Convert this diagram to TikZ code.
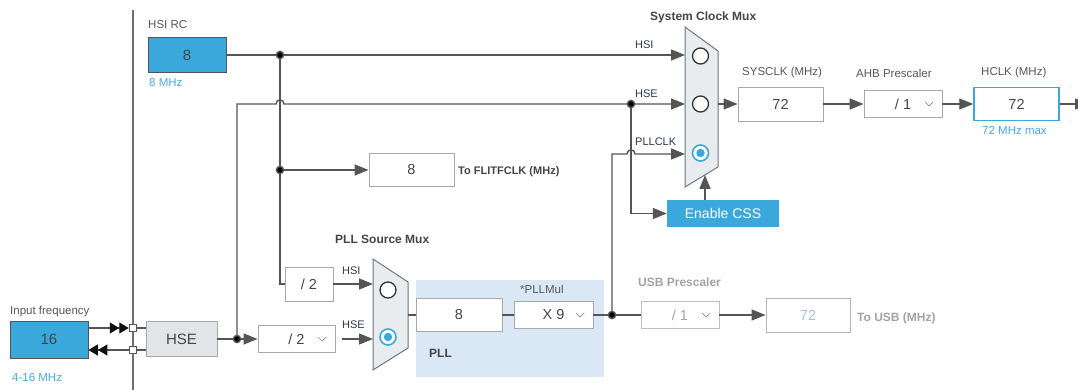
\documentclass[tikz,border=0pt]{standalone}
\usepackage{fontspec}
\setmainfont{Liberation Sans}
\usetikzlibrary{arrows.meta,calc}
\definecolor{wire}{HTML}{555555}
\definecolor{ink}{HTML}{454545}
\definecolor{labelink}{HTML}{575757}
\definecolor{muxink}{HTML}{2E3A4D}
\definecolor{cubeblue}{HTML}{3AA8DB}
\definecolor{hintc}{HTML}{4AA9E0}
\definecolor{pllbg}{HTML}{DAE8F5}
\definecolor{muxfill}{HTML}{E8ECEF}
\definecolor{muxedge}{HTML}{6F7780}
\definecolor{boxline}{HTML}{A8A8A8}
\definecolor{faded}{HTML}{A3A3A3}
\definecolor{fadednum}{HTML}{A8C2DC}
\definecolor{hsefill}{HTML}{E2E4E7}
\definecolor{chevron}{HTML}{8C8C8C}
\definecolor{pintip}{HTML}{111111}
\newcommand{\fsz}[1]{\fontsize{#1}{#1}\selectfont}
\begin{document}
\begin{tikzpicture}[x=1pt,y=-1pt,
  wire/.style={draw=wire,line width=1.4pt},
  arr/.style={wire,-{Triangle[length=14pt,width=11pt]}},
  dbl/.style={wire,-{Triangle[length=9.5pt,width=11pt,color=pintip]Triangle[length=9.5pt,width=11pt,color=pintip]}},
  valbox/.style={draw=boxline,fill=white,line width=0.9pt,inner sep=0,text=ink,font=\fsz{14.5}},
  drop/.style={valbox,path picture={\draw[chevron,line width=0.7pt]
      ([xshift=-17pt,yshift=2pt]path picture bounding box.east) -- ++(4,4) -- ++(4,-4);}},
  bluebox/.style={draw=wire,fill=cubeblue,line width=0.9pt,inner sep=0,text=ink,font=\fsz{15}},
  port/.style={draw=wire,fill=white,line width=1pt,inner sep=0,minimum size=7.5pt},
  lbl/.style={inner sep=0,anchor=west,text=labelink,font=\fsz{11.5}},
  blbl/.style={inner sep=0,anchor=west,text=ink,font=\bfseries\fsz{12}},
  hintlbl/.style={inner sep=0,anchor=west,text=hintc,font=\fsz{11.5}},
  inlbl/.style={inner sep=0,anchor=west,text=muxink,font=\fsz{11}},
  mux/.style={draw=muxedge,fill=muxfill,line width=1pt},
  radio/.style={circle,draw=black!80,fill=white,line width=1.3pt,minimum size=16pt,inner sep=0},
  radioon/.style={circle,draw=cubeblue,fill=white,line width=1.6pt,minimum size=16pt,inner sep=0,
      path picture={\fill[cubeblue] (path picture bounding box.center) circle[radius=4.2pt];}},
]
\useasboundingbox (0,0) rectangle (1078,390);
\fill[white] (0,0) rectangle (1078,390);

% PLL area
\fill[pllbg] (416,280) rectangle (604,377);

% boundary between external and internal clocks
\draw[wire!85,line width=1.2pt] (133,10) -- (133,390);

% ---- muxes ----
\draw[mux] (685,27) -- (718,51) -- (718,167) -- (685,187) -- cycle;
\coordinate (sm-hsi) at (685,55);
\coordinate (sm-hse) at (685,104);
\coordinate (sm-pll) at (685,154);
\coordinate (sm-out) at (718,104);
\coordinate (sm-css) at (705,175);
\node[radio] (sr1) at (700.5,56) {};
\node[radio] (sr2) at (700.5,104) {};
\node[radioon] (sr3) at (700.5,153) {};
\node[blbl] at (650,17) {System Clock Mux};

\draw[mux] (373,259) -- (408,282) -- (408,348) -- (373,370) -- cycle;
\coordinate (pm-hsi) at (373,284);
\coordinate (pm-hse) at (373,339);
\coordinate (pm-out) at (408,315);
\node[radio] (pr1) at (388,290) {};
\node[radioon] (pr2) at (388,337) {};
\node[blbl] at (335,239) {PLL Source Mux};

% ---- sources ----
\node[lbl] at (148,25) {HSI RC};
\node[bluebox,minimum width=78pt,minimum height=35pt] (hsirc) at (187,55) {8};
\node[hintlbl] at (149,83) {8 MHz};

\node[lbl] at (10,312) {Input frequency};
\node[bluebox,minimum width=78pt,minimum height=37pt] (infreq) at (49,339.5) {16};
\node[hintlbl] at (12,378) {4-16 MHz};
\node[port] (pin) at (133,328) {};
\node[port] (pout) at (133,350) {};
\node[draw=boxline,fill=hsefill,line width=0.9pt,inner sep=0,text=ink,font=\fsz{15},
      minimum width=71pt,minimum height=35pt] (hse) at (181.5,339) {HSE};

% ---- boxes ----
\node[valbox,minimum width=85pt,minimum height=33pt] (flit) at (411.5,170) {8};
\node[blbl,font=\bfseries\fsz{11}] at (458,172) {To FLITFCLK (MHz)};

\node[valbox,minimum width=48pt,minimum height=34pt] (div2a) at (309,284) {/ 2};
\node[drop,minimum width=77pt,minimum height=27pt] (div2b) at (296.5,339) {/ 2\hspace{26pt}};
\node[inlbl] at (342,271) {HSI};
\node[inlbl] at (342,325) {HSE};

\node[valbox,minimum width=86pt,minimum height=33pt] (pllin) at (459,315) {8};
\node[drop,minimum width=79pt,minimum height=27pt] (mul) at (553.5,315) {X 9\hspace{26pt}};
\node[lbl] at (520,289) {*PLLMul};
\node[blbl] at (429,353) {PLL};

\node[drop,draw=boxline!75,text=faded,minimum width=78pt,minimum height=27pt] (usbdiv) at (680,315) {/ 1\hspace{26pt}};
\node[valbox,draw=boxline!85,text=fadednum,minimum width=84pt,minimum height=34pt] (usb) at (808,315) {72};
\node[blbl,text=faded] at (638,282) {USB Prescaler};
\node[blbl,text=faded] at (857,318) {To USB (MHz)};

\node[fill=cubeblue,text=white,font=\fsz{14},inner sep=0,
      minimum width=112pt,minimum height=27pt] (css) at (723,213.5) {Enable CSS};

\node[inlbl] at (635,45) {HSI};
\node[inlbl] at (635,94) {HSE};
\node[inlbl] at (635,142) {PLLCLK};

\node[lbl] at (742,73) {SYSCLK (MHz)};
\node[valbox,minimum width=85pt,minimum height=34pt] (sys) at (780.5,104) {72};
\node[lbl] at (856,73) {AHB Prescaler};
\node[drop,minimum width=78pt,minimum height=27pt] (ahb) at (903,104) {/ 1\hspace{26pt}};
\node[lbl] at (981,73) {HCLK (MHz)};
\node[valbox,draw=cubeblue,line width=1.5pt,minimum width=85pt,minimum height=33pt] (hclk) at (1016.5,104) {72};
\node[hintlbl] at (982,131) {72 MHz max};
\coordinate (hclk-out) at (1089,104);

% ---- junctions ----
\coordinate (jhsi) at (280,55);
\coordinate (jflit) at (280,170);
\coordinate (jhse) at (237,339);
\coordinate (jcss) at (631,104);
\coordinate (jpll) at (612,315);

% ---- connectors ----
\draw[arr] (hsirc.east) -- (sm-hsi);
\draw[wire] (jhsi) |- (div2a.west);
\draw[arr] (jflit) -- (flit.west);
\draw[arr] (div2a.east) -- (pm-hsi);

\draw[dbl] (infreq.east |- pin) -- (pin.west);
\draw[dbl] (pout.west) -- (infreq.east |- pout);
\draw[wire] (pin.east) -- (hse.west |- pin);
\draw[wire] (pout.east) -- (hse.west |- pout);
\draw[arr] (hse.east) -- (div2b.west);
\draw[arr,shorten <=7pt] (div2b.east) -- (pm-hse);

% HSE to the system clock mux, hopping over the HSI wire
\draw[arr] (jhse) -- (jhse |- sm-hse)
  -- ($(jhsi |- sm-hse)+(-4,0)$) .. controls +(0,-5.5) and +(0,-5.5) .. ($(jhsi |- sm-hse)+(4,0)$)
  -- (sm-hse);
\draw[arr] (jcss) |- (css.west);
\draw[arr] (css.north -| sm-css) -- (sm-css);

\draw[wire] (pm-out) -- (pllin.west);
\draw[wire] (pllin.east) -- (mul.west);
\draw[wire] (mul.east) -- (usbdiv.west);
\draw[arr] (usbdiv.east) -- (usb.west);

% PLLCLK up to the system clock mux, hopping over the CSS wire
\draw[arr] (jpll) -- (jpll |- sm-pll)
  -- ($(jcss |- sm-pll)+(-4,0)$) .. controls +(0,-5.5) and +(0,-5.5) .. ($(jcss |- sm-pll)+(4,0)$)
  -- (sm-pll);

\draw[arr] (sm-out) -- (sys.west);
\draw[arr] (sys.east) -- (ahb.west);
\draw[arr] (ahb.east) -- (hclk.west);
\draw[arr] (hclk.east) -- (hclk-out);

% junction dots
\foreach \j in {jhsi,jflit,jhse,jcss,jpll}
  \fill[wire] (\j) circle[radius=3.6pt];
\end{tikzpicture}
\end{document}
